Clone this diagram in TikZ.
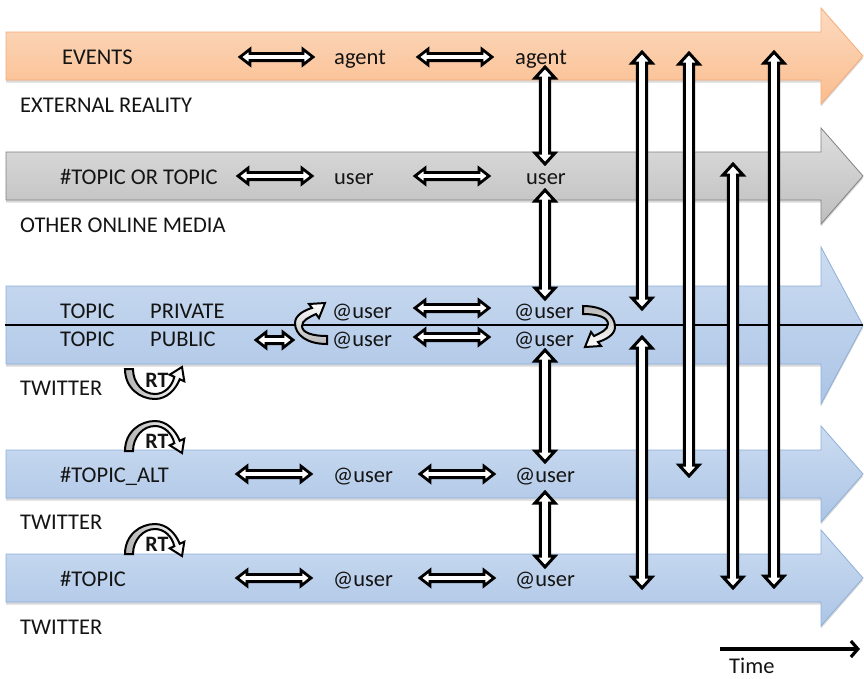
\documentclass[tikz,border=0pt]{standalone}
\usepackage{fontspec}
\setmainfont{Carlito}
\usetikzlibrary{calc,shadows,arrows.meta}
\definecolor{orT}{RGB}{252,218,192}
\definecolor{orB}{RGB}{250,189,142}
\definecolor{orD}{RGB}{246,170,118}
\definecolor{grT}{RGB}{222,222,222}
\definecolor{grB}{RGB}{190,190,190}
\definecolor{grD}{RGB}{128,128,128}
\definecolor{blT}{RGB}{204,220,241}
\definecolor{blB}{RGB}{172,197,230}
\definecolor{blD}{RGB}{141,175,216}
\definecolor{txt}{RGB}{20,20,20}
\tikzset{
 band/.style={line width=0.8pt, drop shadow={opacity=0.3, shadow xshift=0pt, shadow yshift=-2.5pt}},
 orangeband/.style={band, draw=orD, top color=orT, bottom color=orB},
 grayband/.style={band, draw=grD, top color=grT, bottom color=grB},
 blueband/.style={band, draw=blD, top color=blT, bottom color=blB},
 lbl/.style={anchor=base west, inner sep=0pt, text=txt, font=\fontsize{22.5}{27}\selectfont},
 lblc/.style={anchor=base, inner sep=0pt, text=txt, font=\fontsize{22.5}{27}\selectfont},
 hollowh/.style={draw=black, fill=white, line width=2.8pt},
 hollowv/.style={draw=black, fill=white, line width=3pt},
 curvleft/.style={draw=black, line width=2pt, top color=white, bottom color=gray!55},
 curvright/.style={draw=black, line width=2pt, top color=gray!55, bottom color=white},
 rtshape/.style={draw=black, line width=2pt, left color=gray!60, middle color=white, right color=white},
 rtlbl/.style={font=\fontsize{22}{26}\selectfont\bfseries, inner sep=0pt, text=txt},
}
% block arrow: body top, body bottom, head top, head bottom, style
\newcommand\blockarr[5]{\draw[#5] (6,#1) -- (821,#1) -- (821,#3) -- (863,{(#3+#4)/2}) -- (821,#4) -- (821,#2) -- (6,#2) -- cycle;}
% horizontal hollow double arrow between two named coordinates
\newcommand\hdbl[2]{\draw[hollowh] let \p1=(#1), \p2=(#2) in
 (\x1,\y1) -- (\x1+10pt,\y1+7.8pt) -- (\x1+10pt,\y1+3.6pt) -- (\x2-10pt,\y1+3.6pt) -- (\x2-10pt,\y1+7.8pt) -- (\x2,\y1)
 -- (\x2-10pt,\y1-7.8pt) -- (\x2-10pt,\y1-3.6pt) -- (\x1+10pt,\y1-3.6pt) -- (\x1+10pt,\y1-7.8pt) -- cycle;}
% vertical hollow double arrow between two named coordinates (top, bottom)
\newcommand\vdbl[2]{\draw[hollowv] let \p1=(#1), \p2=(#2) in
 (\x1,\y1) -- (\x1+10pt,\y1-11pt) -- (\x1+4.6pt,\y1-11pt) -- (\x1+4.6pt,\y2+11pt) -- (\x1+10pt,\y2+11pt) -- (\x1,\y2)
 -- (\x1-10pt,\y2+11pt) -- (\x1-4.6pt,\y2+11pt) -- (\x1-4.6pt,\y1-11pt) -- (\x1-10pt,\y1-11pt) -- cycle;}
% curved arrow: cx, cy, s (+1 / -1), style
\newcommand\curvarr[4]{\draw[#4] ({#1+(#3)*16},{#2+(#3)*19})
 .. controls ({#1+(#3)*(-4)},{#2+(#3)*19}) and ({#1+(#3)*(-16)},{#2+(#3)*10}) .. ({#1+(#3)*(-16)},{#2+(#3)*(-2)})
 .. controls ({#1+(#3)*(-16)},{#2+(#3)*(-10)}) and ({#1+(#3)*(-6)},{#2+(#3)*(-15)}) .. ({#1+(#3)*1},{#2+(#3)*(-17)})
 -- ({#1+(#3)*(-2)},{#2+(#3)*(-21)})
 -- ({#1+(#3)*14},{#2+(#3)*(-22)})
 -- ({#1+(#3)*8},{#2+(#3)*(-7)})
 -- ({#1+(#3)*5},{#2+(#3)*(-11)})
 .. controls ({#1+(#3)*(-1)},{#2+(#3)*(-8)}) and ({#1+(#3)*(-9)},{#2+(#3)*(-5)}) .. ({#1+(#3)*(-9)},{#2+(#3)*1})
 .. controls ({#1+(#3)*(-9)},{#2+(#3)*8}) and ({#1+(#3)*2},{#2+(#3)*11}) .. ({#1+(#3)*16},{#2+(#3)*11})
 -- cycle;}
% RT icon arrow: cx, base y, s (+1 arch, -1 cup)
\newcommand\rtarr[3]{\draw[rtshape] ({#1-30},#2)
 .. controls ({#1-30},{#2-(#3)*19}) and ({#1-15},{#2-(#3)*30}) .. (#1,{#2-(#3)*30})
 .. controls ({#1+12},{#2-(#3)*30}) and ({#1+21},{#2-(#3)*20}) .. ({#1+24.7},{#2-(#3)*10.2})
 -- ({#1+29.3},{#2-(#3)*12.3})
 -- ({#1+27},{#2+(#3)*2})
 -- ({#1+14.7},{#2-(#3)*5.7})
 -- ({#1+19.3},{#2-(#3)*7.8})
 .. controls ({#1+17},{#2-(#3)*18}) and ({#1+9},{#2-(#3)*25}) .. (#1,{#2-(#3)*25})
 .. controls ({#1-12},{#2-(#3)*25}) and ({#1-22},{#2-(#3)*14}) .. ({#1-22},#2)
 -- cycle;}
\begin{document}
\begin{tikzpicture}[x=1pt,y=-1pt]
\useasboundingbox (0,0) rectangle (864,678);
% big block arrows
\blockarr{32}{80}{8}{104}{orangeband}
\blockarr{152}{200}{128}{224}{grayband}
\blockarr{286}{364}{247}{404}{blueband}
\blockarr{450}{498}{426}{522}{blueband}
\blockarr{554}{602}{530}{626}{blueband}
\coordinate (mid0) at (5,325);
\coordinate (mid1) at (863,325);
\draw[line width=2.2pt] (mid0) -- (mid1);
% labels
\node[lbl] (events) at (62,64) {EVENTS};
\node[lblc] (agent1) at (360,64) {agent};
\node[lblc] (agent2) at (541,64) {agent};
\node[lbl] (ext) at (20,112) {EXTERNAL REALITY};
\node[lbl] (topic0) at (60,184) {\#TOPIC OR TOPIC};
\node[lblc] (user1) at (354,184) {user};
\node[lblc] (user2) at (546,184) {user};
\node[lbl] (other) at (20,232) {OTHER ONLINE MEDIA};
\node[lbl] (tpriv) at (60,318) {TOPIC};
\node[lbl] (priv) at (150,318) {PRIVATE};
\node[lbl] (tpub) at (60,346) {TOPIC};
\node[lbl] (pub) at (150,346) {PUBLIC};
\node[lbl] (aupriv1) at (332,318) {@user};
\node[lbl] (aupriv2) at (514,318) {@user};
\node[lbl] (aupub1) at (332,346) {@user};
\node[lbl] (aupub2) at (514,346) {@user};
\node[lbl] (tw1) at (20,395) {TWITTER};
\node[lbl] (alt) at (60,482) {\#TOPIC\_ALT};
\node[lbl] (aualt1) at (333,482) {@user};
\node[lbl] (aualt2) at (515,482) {@user};
\node[lbl] (tw2) at (20,529) {TWITTER};
\node[lbl] (top) at (60,586) {\#TOPIC};
\node[lbl] (autop1) at (333,586) {@user};
\node[lbl] (autop2) at (515,586) {@user};
\node[lbl] (tw3) at (20,634) {TWITTER};
\node[lbl] (time) at (729,673) {Time};
% horizontal hollow arrows
\coordinate (h1a) at (240,57); \coordinate (h1b) at (313,57);
\coordinate (h2a) at (418,57); \coordinate (h2b) at (492,57);
\coordinate (h3a) at (238,176); \coordinate (h3b) at (312,176);
\coordinate (h4a) at (415,176); \coordinate (h4b) at (489,176);
\coordinate (h5a) at (415,308); \coordinate (h5b) at (489,308);
\coordinate (h6a) at (415,337); \coordinate (h6b) at (489,337);
\coordinate (h7a) at (256,340); \coordinate (h7b) at (293,340);
\coordinate (h8a) at (237,474); \coordinate (h8b) at (311,474);
\coordinate (h9a) at (420,474); \coordinate (h9b) at (494,474);
\coordinate (h10a) at (237,578); \coordinate (h10b) at (311,578);
\coordinate (h11a) at (420,578); \coordinate (h11b) at (494,578);
\hdbl{h1a}{h1b}\hdbl{h2a}{h2b}\hdbl{h3a}{h3b}\hdbl{h4a}{h4b}
\hdbl{h5a}{h5b}\hdbl{h6a}{h6b}\hdbl{h7a}{h7b}
\hdbl{h8a}{h8b}\hdbl{h9a}{h9b}\hdbl{h10a}{h10b}\hdbl{h11a}{h11b}
% curved arrows between private and public
\curvarr{311}{325}{1}{curvleft}
\curvarr{599}{325}{-1}{curvright}
% RT icons
\rtarr{155}{369}{-1}
\node[rtlbl] (rt1) at (157,380) {RT};
\rtarr{155}{451}{1}
\node[rtlbl] (rt2) at (157,441) {RT};
\rtarr{155}{554}{1}
\node[rtlbl] (rt3) at (157,544) {RT};
% vertical hollow arrows
\coordinate (va1) at (545,67); \coordinate (vb1) at (545,164);
\coordinate (va2) at (545,190); \coordinate (vb2) at (545,299);
\coordinate (va3) at (545,350); \coordinate (vb3) at (545,462);
\coordinate (va4) at (545,492); \coordinate (vb4) at (545,567);
\coordinate (va5) at (642,52); \coordinate (vb5) at (642,309);
\coordinate (va6) at (642,337); \coordinate (vb6) at (642,588);
\coordinate (va7) at (689,53); \coordinate (vb7) at (689,476);
\coordinate (va8) at (733,164); \coordinate (vb8) at (733,588);
\coordinate (va9) at (774,52); \coordinate (vb9) at (774,587);
\vdbl{va1}{vb1}\vdbl{va2}{vb2}\vdbl{va3}{vb3}\vdbl{va4}{vb4}
\vdbl{va5}{vb5}\vdbl{va6}{vb6}\vdbl{va7}{vb7}\vdbl{va8}{vb8}\vdbl{va9}{vb9}
% time arrow
\coordinate (t0) at (720,649); \coordinate (t1) at (860,649);
\draw[line width=3.2pt, -{Straight Barb[length=7pt,width=16pt]}] (t0) -- (t1);
\end{tikzpicture}
\end{document}
